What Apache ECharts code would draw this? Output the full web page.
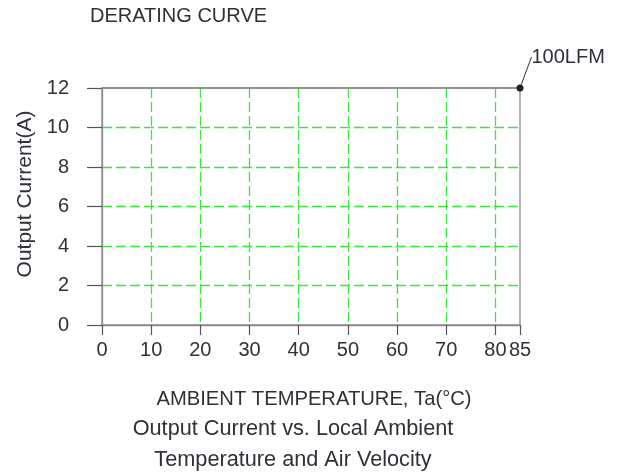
<!DOCTYPE html>
<html>
<head>
<meta charset="utf-8">
<title>Derating Curve</title>
<script src="https://cdn.jsdelivr.net/npm/echarts@6/dist/echarts.min.js"></script>
<style>
  html, body { margin: 0; padding: 0; background: #fff; }
  #chart { width: 622px; height: 475px; }
</style>
</head>
<body>
<div id="chart"></div>
<script>
// Ambient temperature (°C) at the curve's points
const temps = [0, 85];
// Output current (A) at 100 LFM air velocity
const current100LFM = [12, 12];
const curveName = '100LFM';

// Axis ticks
const xMin = 0, xMax = 85, xStep = 10;
const yMin = 0, yMax = 12, yStep = 2;

const textColor = '#2e3138';
const frameColor = '#8c8c8c';
const gridGreen = '#3de63d';
const font = 'Liberation Sans, Arial, sans-serif';

const points = temps.map((t, i) => {
  const last = i === temps.length - 1;
  return {
    value: [t, current100LFM[i]],
    symbol: last ? 'circle' : 'none',
    label: { show: last }
  };
});

const chart = echarts.init(document.getElementById('chart'), null, { renderer: 'canvas' });

chart.setOption({
  animation: false,
  backgroundColor: '#fff',
  title: [
    {
      text: 'DERATING CURVE',
      left: 85,
      top: 1,
      textStyle: { fontFamily: font, fontSize: 20, fontWeight: 'normal', color: textColor }
    },
    {
      text: 'Output Current vs. Local Ambient\nTemperature and Air Velocity',
      left: 288,
      top: 409,
      textAlign: 'center',
      textStyle: { fontFamily: font, fontSize: 21.7, fontWeight: 'normal', color: textColor, lineHeight: 31, align: 'center' }
    }
  ],
  grid: {
    left: 102,
    top: 88,
    width: 418,
    height: 237,
    show: true,
    borderColor: frameColor,
    borderWidth: 1.3,
    backgroundColor: 'transparent'
  },
  xAxis: {
    type: 'value',
    min: xMin,
    max: xMax,
    interval: xStep,
    name: 'AMBIENT TEMPERATURE, Ta(°C)',
    nameLocation: 'middle',
    nameGap: 64,
    nameTextStyle: { fontFamily: font, fontSize: 20.2, color: textColor, padding: [0, 0, 0, 6] },
    axisLine: { show: true, onZero: false, lineStyle: { color: frameColor, width: 1.3 } },
    axisTick: { show: true, length: 10, lineStyle: { color: '#555', width: 1.2 } },
    axisLabel: {
      fontFamily: font, fontSize: 20, color: textColor, margin: 15,
      showMinLabel: true, showMaxLabel: true, hideOverlap: false
    },
    splitLine: {
      show: true, showMinLine: false, showMaxLine: false,
      lineStyle: { color: gridGreen, width: 1.3, type: [10, 4] }
    }
  },
  yAxis: {
    type: 'value',
    min: yMin,
    max: yMax,
    interval: yStep,
    name: 'Output Current(A)',
    nameLocation: 'middle',
    nameRotate: 90,
    nameGap: 66,
    nameTextStyle: { fontFamily: font, fontSize: 21, color: textColor, padding: [0, 0, 0, 25] },
    axisLine: { show: true, onZero: false, lineStyle: { color: frameColor, width: 1.3 } },
    axisTick: { show: true, length: 15, lineStyle: { color: '#555', width: 1.2 } },
    axisLabel: { fontFamily: font, fontSize: 20, color: textColor, margin: 33 },
    splitLine: {
      show: true, showMinLine: false, showMaxLine: false,
      lineStyle: { color: gridGreen, width: 1.3, type: [10, 4] }
    }
  },
  series: [
    {
      name: curveName,
      type: 'line',
      data: points,
      clip: false,
      symbolSize: 7,
      lineStyle: { color: frameColor, width: 1.3 },
      itemStyle: { color: '#1e2126' },
      label: {
        show: false,
        position: 'right',
        distance: 5,
        formatter: curveName,
        fontFamily: font,
        fontSize: 20,
        color: textColor
      },
      labelLine: { show: true, lineStyle: { color: '#333', width: 1 } },
      labelLayout: { dx: 3, dy: -31 },
      emphasis: { disabled: true }
    }
  ]
});
</script>
</body>
</html>
